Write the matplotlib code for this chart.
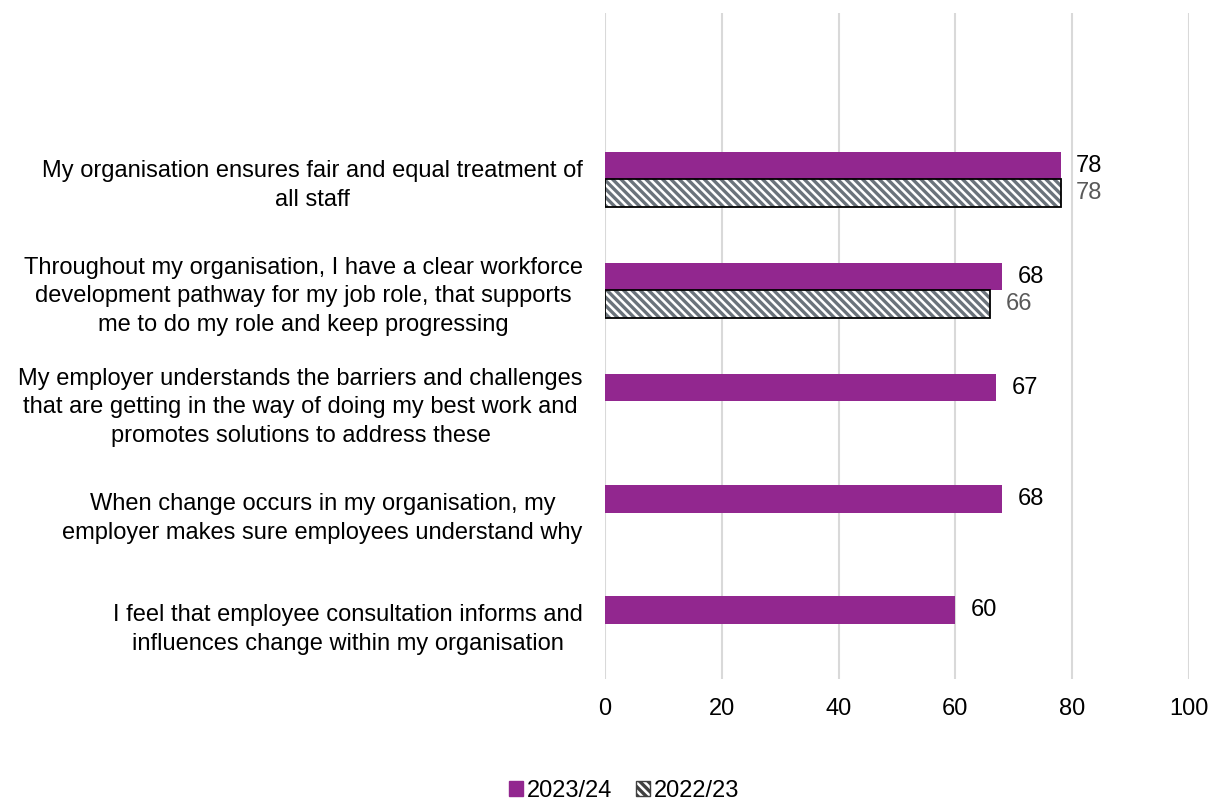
import numpy as np
import matplotlib

matplotlib.use("Agg")
import matplotlib.pyplot as plt  # noqa: E402
from matplotlib.patches import Patch  # noqa: E402

plt.rcParams["font.family"] = ["Liberation Sans", "DejaVu Sans"]
plt.rcParams["font.size"] = 17
plt.rcParams["hatch.linewidth"] = 2.4

statements = [
    "My organisation ensures fair and equal treatment of\nall staff",
    "Throughout my organisation, I have a clear workforce\ndevelopment pathway for my job role, that supports\nme to do my role and keep progressing",
    "My employer understands the barriers and challenges\nthat are getting in the way of doing my best work and\npromotes solutions to address these",
    "When change occurs in my organisation, my\nemployer makes sure employees understand why",
    "I feel that employee consultation informs and\ninfluences change within my organisation",
]
score_2324 = [78, 68, 67, 68, 60]
score_2223 = [78, 66, np.nan, np.nan, np.nan]
x_ticks = [0, 20, 40, 60, 80, 100]

PURPLE = "#92278f"
HATCH_GREY = "#6b737b"
BAR_H = 0.25

fig = plt.figure(figsize=(12.2, 8.01), dpi=100)
ax = fig.add_axes([605 / 1220, 1 - 679 / 801, 584 / 1220, 666 / 801])

ypos = np.arange(len(statements))
cur = ax.barh(ypos - BAR_H / 2, score_2324, height=BAR_H, color=PURPLE, zorder=3)
ax.bar_label(cur, labels=[f"{v:g}" for v in score_2324], padding=11, color="black")

# previous year only exists for the first two statements
prev = np.array(score_2223, dtype=float)
has_prev = ~np.isnan(prev)
py = ypos[has_prev] + BAR_H / 2
pv = prev[has_prev]
ax.barh(py, pv, height=BAR_H, facecolor="white", edgecolor=HATCH_GREY,
        hatch="\\\\\\\\", linewidth=0, zorder=3)
old = ax.barh(py, pv, height=BAR_H, facecolor="none", edgecolor="black",
              linewidth=1.3, zorder=4)
ax.bar_label(old, labels=[f"{v:g}" for v in pv], padding=11, color="#595959")

ax.set_xlim(0, 100)
ax.set_xticks(x_ticks)
ax.set_ylim(len(statements) - 0.5, -1.5)
ax.set_yticks(ypos)
ax.set_yticklabels(statements, multialignment="center", linespacing=1.4)
ax.tick_params(axis="both", length=0)
ax.tick_params(axis="x", pad=14)
ax.tick_params(axis="y", pad=16)
ax.grid(axis="x", color="#d9d9d9", linewidth=1.5, zorder=0)
ax.set_axisbelow(True)
for s in ax.spines.values():
    s.set_visible(False)

handles = [
    Patch(facecolor=PURPLE, edgecolor=PURPLE),
    Patch(facecolor="white", edgecolor="#404040", hatch="\\\\\\\\", linewidth=1),
]
fig.legend(handles, ["2023/24", "2022/23"], loc="center", bbox_to_anchor=(624 / 1220, 1 - 791 / 801),
           ncol=2, frameon=False, handlelength=0.6, handleheight=0.6,
           handletextpad=0.15, columnspacing=1.0)

fig.savefig("out.png", dpi=100)
